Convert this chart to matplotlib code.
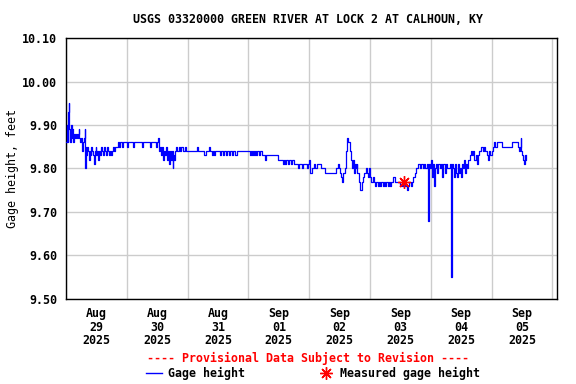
import matplotlib
matplotlib.use('Agg')
import matplotlib.pyplot as plt
import matplotlib.dates as mdates
import matplotlib.lines as mlines
import pandas as pd

title = 'USGS 03320000 GREEN RIVER AT LOCK 2 AT CALHOUN, KY'
start = pd.Timestamp('2025-08-29 00:00')

# hours after start, gage height (ft)
hours = [0.0, 0.3, 0.6, 0.9, 1.1, 1.3, 1.6, 1.9, 2.2, 2.5, 2.8, 3.1, 3.5, 3.9, 4.3,
         4.7, 5.0, 5.3, 5.7, 6.0, 6.3, 6.7, 7.0, 7.3, 7.5, 7.7,
         8.0, 8.3, 8.7, 9.0, 9.3, 9.7, 10.0, 10.4, 10.7, 11.0, 11.3, 11.7, 12.0, 12.4,
         12.7, 13.0, 13.4, 13.7, 14.1, 14.5, 14.9, 15.3, 15.7, 16.0, 16.4, 16.8, 17.2,
         17.6, 18.0, 18.4,
         19.0, 19.4, 20.4, 21.0, 21.5, 22.0, 22.6, 24.0, 24.5, 26.5, 27.0, 30.0, 30.5,
         33.0, 33.5, 35.5, 36.0,
         36.5, 36.8, 37.1, 37.4, 37.8, 38.1, 38.5, 38.9, 39.3, 39.7, 40.1, 40.5, 40.9,
         41.3, 41.7, 42.1, 42.4, 42.8, 43.2, 43.6, 44.0,
         44.5, 45.0, 45.5, 46.0, 47.0, 47.4, 51.8, 52.2, 54.5, 55.2, 56.5, 57.0, 57.5,
         58.0, 58.6, 59.0,
         60.7, 61.3, 61.9, 62.5, 63.1, 63.7, 64.3, 64.9, 65.5, 66.1, 66.7, 67.3,
         72.5, 72.9, 73.3, 73.7, 74.1, 74.6, 75.0, 75.5, 76.0, 76.5, 77.2, 78.4, 79.0,
         83.7, 85.5, 86.0, 86.5, 87.0, 87.5, 88.2, 88.8, 89.3, 89.8,
         91.0, 91.5, 92.0, 93.0, 93.5, 94.2, 95.0, 95.5, 96.0, 96.5, 97.0, 97.8, 98.4,
         99.0, 100.8, 102.4, 106.7, 107.2, 107.8, 108.3, 108.7, 109.0, 109.4, 110.0,
         110.5, 111.1, 111.5, 111.9, 112.3, 112.7, 113.1, 113.5, 113.9, 114.3, 114.7,
         115.0, 115.5, 116.0, 116.7, 117.3, 117.8, 118.3, 118.7, 119.1, 119.5, 120.0,
         120.5, 121.0, 121.5,
         122.1, 122.5, 123.0, 123.5, 124.0, 124.5, 125.0, 125.5, 126.0, 126.5, 127.0,
         127.5, 128.0, 128.4, 129.2, 130.0, 132.0, 132.5, 133.0, 133.5, 134.0, 134.5,
         135.0, 135.5, 136.0, 136.5, 137.0, 137.7, 138.3, 139.0, 139.6, 140.2, 140.8,
         141.3, 141.8, 142.3, 142.9, 143.1, 143.5, 143.9, 144.3, 144.7, 145.3, 145.7,
         146.1, 146.5, 147.0, 147.5, 148.0, 148.5, 149.0, 149.5, 150.0, 150.5, 151.5,
         151.9, 152.1, 152.3,
         152.6, 153.0, 153.4, 153.8, 154.2, 154.6, 155.0, 155.4, 155.8, 156.2, 156.6,
         157.0, 157.4, 157.8, 158.2, 158.6, 159.3, 159.8, 160.3, 160.8, 161.2, 161.7,
         162.2, 162.7, 163.2, 163.8, 164.5, 165.0, 165.5, 166.0, 166.5, 167.0, 167.5,
         168.0, 168.6, 169.0, 169.5, 170.0, 172.0, 175.9, 178.3, 178.5, 178.8, 179.1,
         179.4, 179.7, 180.0, 180.4, 180.7, 181.0, 181.3, 181.7]
gage = [9.86, 9.90, 9.86, 9.93, 9.95, 9.89, 9.86, 9.90, 9.87, 9.89, 9.86, 9.88, 9.87, 9.88, 9.87,
        9.88, 9.89, 9.87, 9.86, 9.87, 9.84, 9.86, 9.87, 9.89, 9.80, 9.85,
        9.83, 9.85, 9.84, 9.82, 9.84, 9.83, 9.85, 9.84, 9.83, 9.81, 9.84, 9.85, 9.83, 9.84,
        9.82, 9.84, 9.83, 9.85, 9.84, 9.83, 9.85, 9.84, 9.83, 9.85, 9.84, 9.83, 9.84,
        9.83, 9.84, 9.85,
        9.84, 9.85, 9.86, 9.85, 9.86, 9.85, 9.86, 9.85, 9.86, 9.85, 9.86, 9.85, 9.86,
        9.85, 9.86, 9.85, 9.86,
        9.87, 9.84, 9.85, 9.83, 9.85, 9.82, 9.84, 9.83, 9.85, 9.82, 9.84, 9.81, 9.84,
        9.82, 9.84, 9.80, 9.83, 9.82, 9.84, 9.85, 9.84,
        9.85, 9.84, 9.85, 9.84, 9.85, 9.84, 9.85, 9.84, 9.83, 9.84, 9.85, 9.84, 9.83,
        9.84, 9.83, 9.84,
        9.83, 9.84, 9.83, 9.84, 9.83, 9.84, 9.83, 9.84, 9.83, 9.84, 9.83, 9.84,
        9.83, 9.84, 9.83, 9.84, 9.83, 9.84, 9.83, 9.84, 9.83, 9.84, 9.83, 9.82, 9.83,
        9.82, 9.81, 9.82, 9.81, 9.82, 9.81, 9.82, 9.81, 9.82, 9.81,
        9.81, 9.80, 9.81, 9.80, 9.81, 9.81, 9.80, 9.81, 9.82, 9.79, 9.80, 9.81, 9.80,
        9.81, 9.80, 9.79, 9.80, 9.81, 9.80, 9.79, 9.78, 9.77, 9.79, 9.80,
        9.84, 9.87, 9.86, 9.84, 9.82, 9.80, 9.82, 9.79, 9.81, 9.80, 9.81,
        9.79, 9.77, 9.75, 9.77, 9.78, 9.79, 9.80, 9.79, 9.78, 9.80, 9.78,
        9.77, 9.78, 9.77,
        9.76, 9.77, 9.76, 9.77, 9.76, 9.77, 9.76, 9.77, 9.76, 9.77, 9.76,
        9.77, 9.76, 9.77, 9.78, 9.77, 9.76, 9.77, 9.76, 9.77, 9.76, 9.75,
        9.76, 9.77, 9.76, 9.77, 9.78, 9.79, 9.80, 9.81, 9.80, 9.81, 9.80,
        9.81, 9.80, 9.81, 9.68, 9.81, 9.80, 9.82, 9.78, 9.81, 9.76, 9.80,
        9.81, 9.79, 9.81, 9.80, 9.81, 9.78, 9.81, 9.79, 9.81, 9.80, 9.81,
        9.69, 9.55, 9.81,
        9.80, 9.78, 9.81, 9.79, 9.78, 9.81, 9.79, 9.80, 9.78, 9.81, 9.80,
        9.82, 9.79, 9.81, 9.80, 9.82, 9.83, 9.84, 9.83, 9.84, 9.82, 9.83,
        9.81, 9.83, 9.84, 9.85, 9.84, 9.85, 9.84, 9.83, 9.82, 9.84, 9.83,
        9.84, 9.85, 9.86, 9.85, 9.86, 9.85, 9.86, 9.86, 9.85, 9.84, 9.85,
        9.87, 9.84, 9.83, 9.82, 9.81, 9.83, 9.82, 9.83]

meas_hours = [133.5]
meas_gage = [9.77]

times = start + pd.to_timedelta(hours, unit='h')
meas_times = start + pd.to_timedelta(meas_hours, unit='h')

plt.rcParams['font.family'] = 'DejaVu Sans Mono'
plt.rcParams['font.weight'] = 'bold'
fs = 8.4

fig = plt.figure(figsize=(5.76, 3.84), dpi=100)
ax = fig.add_axes([0.1146, 0.2214, 0.8524, 0.6796])

ax.plot(times, gage, color='#0000ff', lw=0.9, drawstyle='steps-post', zorder=3)
ax.plot(meas_times, meas_gage, ls='none', marker=(8, 2, 0), ms=9, mec='#ff0000',
        mew=1.0, zorder=4)

ax.set_ylim(9.50, 10.10)
ax.set_yticks([9.5 + 0.1 * i for i in range(7)])
ax.yaxis.set_major_formatter(plt.FormatStrFormatter('%.2f'))
ax.set_xlim(start, start + pd.Timedelta(hours=193.8))
ax.xaxis.set_major_locator(mdates.DayLocator())
ax.xaxis.set_major_formatter(plt.NullFormatter())
ax.xaxis.set_minor_locator(mdates.HourLocator(byhour=[12]))
ax.xaxis.set_minor_formatter(mdates.DateFormatter('%b\n%d\n%Y'))
ax.grid(True, which='major', color='#cccccc', lw=1.0)
ax.set_axisbelow(True)
ax.tick_params(which='both', length=0, labelsize=fs, pad=6)
ax.tick_params(axis='y', pad=6.5)
for lab in ax.get_xticklabels(minor=True):
  lab.set_linespacing(1.05)
for s in ax.spines.values():
  s.set_color('black')
  s.set_linewidth(1.0)

ax.set_ylabel('Gage height, feet', fontsize=fs)
ax.yaxis.set_label_coords(-0.095, 0.5)
fig.text(0.535, 0.948, title, ha='center', va='center', fontsize=fs)
fig.text(0.535, 0.067, '---- Provisional Data Subject to Revision ----',
         ha='center', va='center', fontsize=fs, color='#ff0000')

h1 = mlines.Line2D([], [], color='#0000ff', lw=1.0)
h2 = mlines.Line2D([], [], ls='none', marker=(8, 2, 0), ms=9, mec='#ff0000', mew=1.0)
fig.legend([h1, h2], ['Gage height', 'Measured gage height'], loc='center',
           bbox_to_anchor=(0.543, 0.028), ncol=2, frameon=False, fontsize=fs,
           handlelength=1.37, handletextpad=0.5, columnspacing=6.25, borderpad=0)

fig.savefig('out.png', dpi=100)
